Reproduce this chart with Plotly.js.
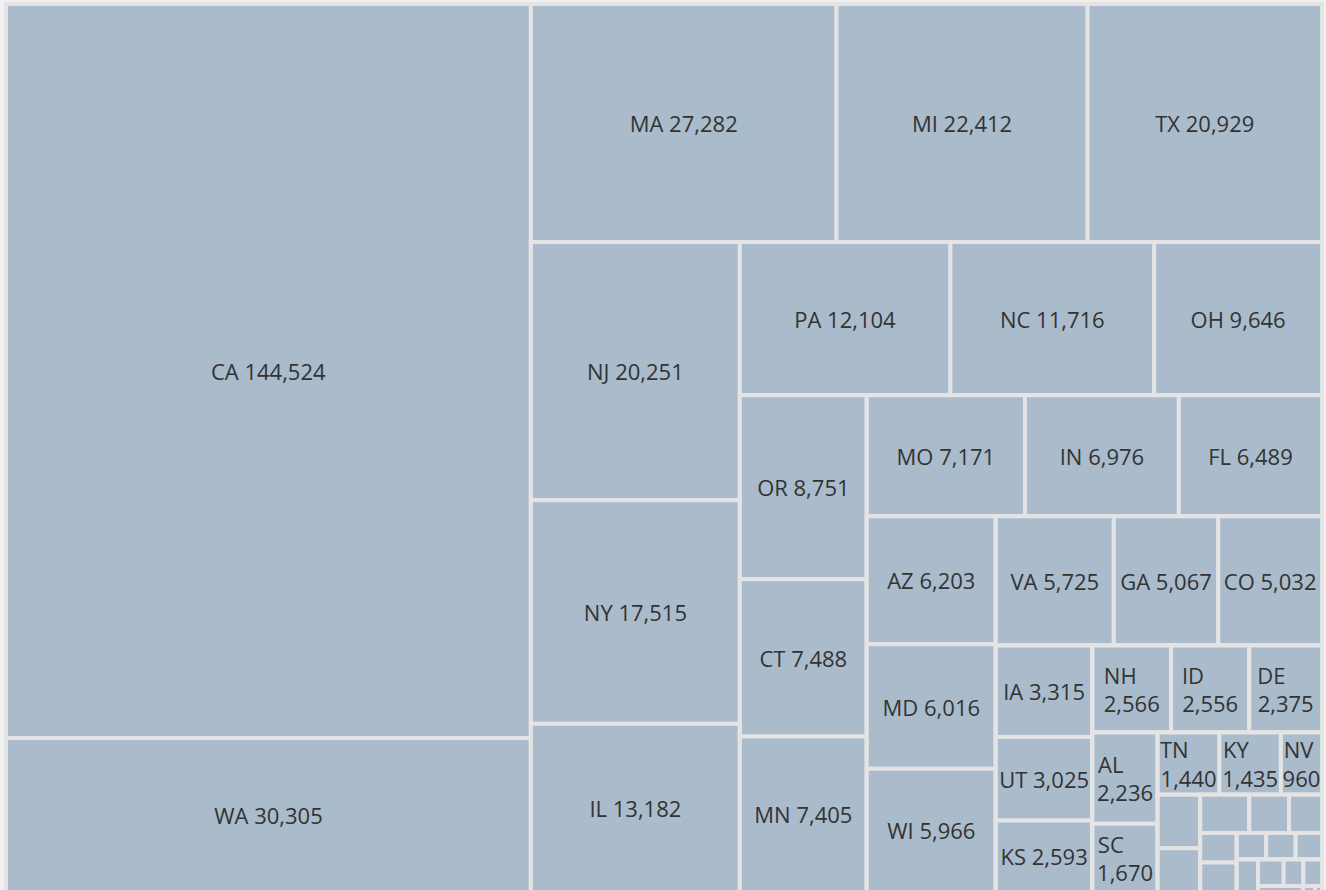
<!DOCTYPE html>
<html>
<head>
<meta charset="utf-8">
<script src="https://cdn.plot.ly/plotly-3.0.1.min.js"></script>
<style>
html, body { margin: 0; padding: 0; overflow: hidden; background: #f0f0f0; }
#chart { width: 1326px; height: 892px; }
</style>
</head>
<body>
<div id="chart"></div>
<script>
// Data
const states = ["CA","WA","MA","MI","TX","NJ","NY","IL","PA","NC","OH","OR","CT","MN","MO","IN","FL","AZ","MD","WI","VA","GA","CO","IA","UT","KS","NH","ID","DE","AL","SC","TN","KY","NV",
  "LA","OK","NE","RI","NM","ME","AR","HI","VT","MT","DC","MS","WV","SD","ND","AK","WY"];
const values = [144524,30305,27282,22412,20929,20251,17515,13182,12104,11716,9646,8751,7488,7405,7171,6976,6489,6203,6016,5966,5725,5067,5032,3315,3025,2593,2566,2556,2375,2236,1670,1440,1435,960,
  851,700,700,570,470,405,405,293,293,263,260,254,195,185,103,27,16];
// band (alternating column / row strip) each state belongs to in the reference's tiling
const strip = [1,1, 2,2,2, 3,3,3, 4,4,4, 5,5,5, 6,6,6, 7,7,7, 8,8,8, 9,9,9, 10,10,10, 11,11,
  12,12,12, 13,13, 14,14,14, 15,15, 16,16,16, 17, 18,18,18, 19,19,19];
// two-line labels (left-aligned lines): non-breaking spaces appended to the label line
const twoLinePad = { NH: 4, ID: 6, DE: 5, AL: 5, SC: 5, TN: 5, KY: 5, NV: 1 };
const labeledCount = 34;

const nStrips = Math.max(...strip);
const ids = [], labels = [], parents = [], vals = [], tmpl = [];
for (let k = 1; k < nStrips; k++) {
  const par = k === 1 ? "" : "r" + (k - 1);
  ids.push("s" + k); labels.push(""); parents.push(par); vals.push(0); tmpl.push("");
  ids.push("r" + k); labels.push(""); parents.push(par); vals.push(0); tmpl.push("");
}
states.forEach((s, i) => {
  ids.push(s);
  labels.push(s);
  parents.push(strip[i] < nStrips ? "s" + strip[i] : "r" + (nStrips - 1));
  vals.push(values[i]);
  if (i >= labeledCount) tmpl.push("");
  else if (s in twoLinePad) tmpl.push("%{label}" + "\u00A0".repeat(twoLinePad[s]) + "<br>%{value:,}");
  else tmpl.push("%{label} %{value:,}");
});

const trace = {
  type: "treemap",
  ids: ids,
  labels: labels,
  parents: parents,
  values: vals,
  branchvalues: "remainder",
  sort: false,
  tiling: { packing: "slice-dice", pad: 0 },
  texttemplate: tmpl,
  textposition: "middle center",
  textfont: { family: "Open Sans", size: 22, color: "#333" },
  marker: { colors: ids.map(() => "#aabbcc"), line: { color: "#e4e4e4", width: 4 }, pad: { t: 0, l: 0, r: 0, b: 0 } },
  leaf: { opacity: 1 },
  pathbar: { visible: false },
  hoverinfo: "label+value"
};

const layout = {
  width: 1326,
  height: 892,
  margin: { l: 6, r: 4, t: 4, b: 0 },
  paper_bgcolor: "#f0f0f0",
  uniformtext: { minsize: 22, mode: "show" },
  font: { family: "Open Sans", color: "#333" }
};

Plotly.newPlot("chart", [trace], layout, { displayModeBar: false, staticPlot: true });
</script>
</body>
</html>
